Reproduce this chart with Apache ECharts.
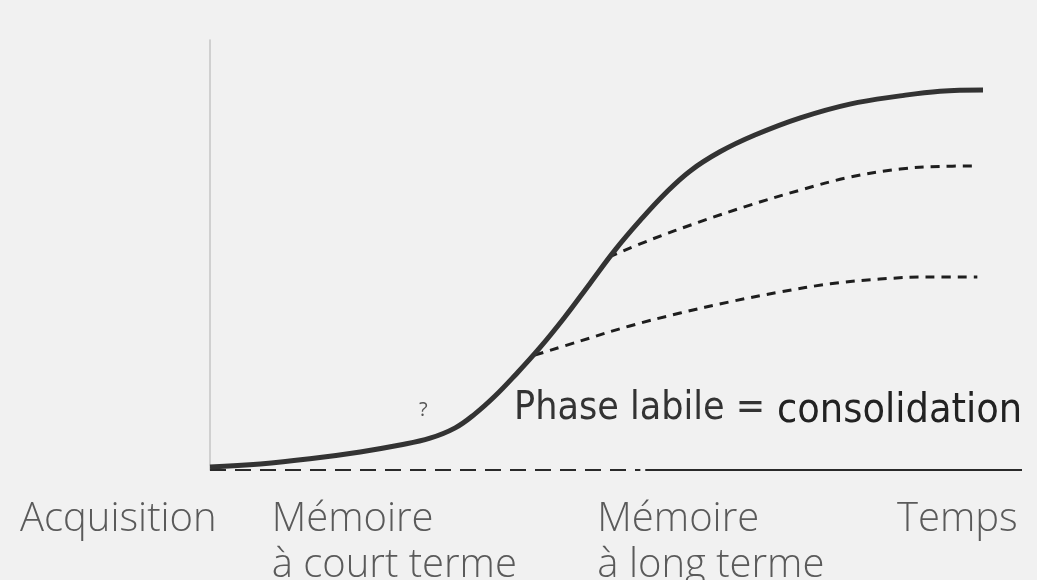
<!DOCTYPE html>
<html>
<head>
<meta charset="utf-8">
<script src="https://cdn.jsdelivr.net/npm/echarts@6/dist/echarts.min.js"></script>
<style>
  html, body { margin: 0; padding: 0; background: #f1f1f1; }
  #chart { width: 1037px; height: 580px; }
</style>
</head>
<body>
<div id="chart"></div>
<script>
// time (0 = acquisition, 100 = end of axis) / memory strength (0..100)
const mainTime = [0, 6.2, 12.3, 18.5, 23.4, 27.1, 30.2, 32.6, 35.1, 37.6, 40.6, 43.7, 46.8, 49.9, 53.0, 56.0, 59.1, 62.8, 67.1, 72.7, 78.8, 85.0, 89.9, 95.2];
const mainLevel = [0.7, 1.4, 2.6, 4.2, 5.8, 7.4, 9.8, 13.0, 17.2, 22.1, 28.4, 35.6, 43.4, 51.2, 58.1, 64.2, 69.5, 74.0, 77.9, 81.9, 85.1, 87.0, 88.1, 88.4];

const upperTime = [49.1, 54.2, 60.3, 66.5, 72.7, 78.8, 85.0, 89.9, 94.5];
const upperLevel = [49.5, 53.5, 57.7, 61.6, 65.1, 68.1, 70.0, 70.6, 70.7];

const lowerTime = [40.0, 45.6, 51.7, 57.9, 64.0, 70.2, 76.4, 82.5, 88.7, 94.5];
const lowerLevel = [26.7, 30.0, 33.5, 36.5, 39.1, 41.4, 43.3, 44.4, 44.9, 44.9];

// baseline pieces: dashed then solid
const baseDashed = [0, 53];
const baseSolid = [53.6, 100];

// x-axis labels, placed at their left edge
const labelPos = [-23.4, 7.6, 47.7, 84.6];
const labelText = ['Acquisition', 'Mémoire\nà court terme', 'Mémoire\nà long terme', 'Temps'];

const zip = (xs, ys) => xs.map((x, i) => [x, ys[i]]);

const chart = echarts.init(document.getElementById('chart'));

chart.setOption({
  backgroundColor: '#f1f1f1',
  animation: false,
  grid: { left: 7, right: 15, top: 40, bottom: 110, containLabel: false, outerBoundsMode: 'none' },
  xAxis: {
    type: 'value',
    min: -25,
    max: 100,
    axisLine: { show: false },
    axisTick: { show: false },
    splitLine: { show: false },
    axisLabel: {
      customValues: labelPos,
      align: 'left',
      margin: 27,
      fontFamily: 'Open Sans',
      fontWeight: 300,
      fontSize: 40,
      lineHeight: 46,
      color: '#5a5a5a',
      formatter: v => labelText[labelPos.indexOf(v)] || ''
    }
  },
  yAxis: {
    type: 'value',
    min: 0,
    max: 100,
    axisLine: { show: true, onZero: true, lineStyle: { color: '#c4c4c4', width: 1.5 } },
    axisTick: { show: false },
    axisLabel: { show: false },
    splitLine: { show: false }
  },
  graphic: [
    { type: 'text', left: 419, top: 400, style: { text: '?', font: '20px "Open Sans"', fill: '#555' } },
    { type: 'text', left: 514, top: 389, style: { text: 'Phase labile =', font: '39px "DejaVu Sans Condensed"', fill: '#333' } },
    { type: 'text', left: 777, top: 391, style: { text: 'consolidation', font: '41px "DejaVu Sans Condensed"', fill: '#222' } }
  ],
  series: [
    {
      type: 'line',
      data: baseDashed.map(x => [x, 0]),
      symbol: 'none',
      lineStyle: { color: '#2a2a2a', width: 2, type: [16, 9] }
    },
    {
      type: 'line',
      data: baseSolid.map(x => [x, 0]),
      symbol: 'none',
      lineStyle: { color: '#2a2a2a', width: 2 }
    },
    {
      type: 'line',
      data: zip(upperTime, upperLevel),
      smooth: 0.4,
      symbol: 'none',
      lineStyle: { color: '#1e1e1e', width: 3, type: [9, 7] }
    },
    {
      type: 'line',
      data: zip(lowerTime, lowerLevel),
      smooth: 0.4,
      symbol: 'none',
      lineStyle: { color: '#1e1e1e', width: 3, type: [9, 7] }
    },
    {
      type: 'line',
      data: zip(mainTime, mainLevel),
      smooth: 0.4,
      symbol: 'none',
      lineStyle: { color: '#333', width: 5 }
    }
  ]
});
</script>
</body>
</html>
